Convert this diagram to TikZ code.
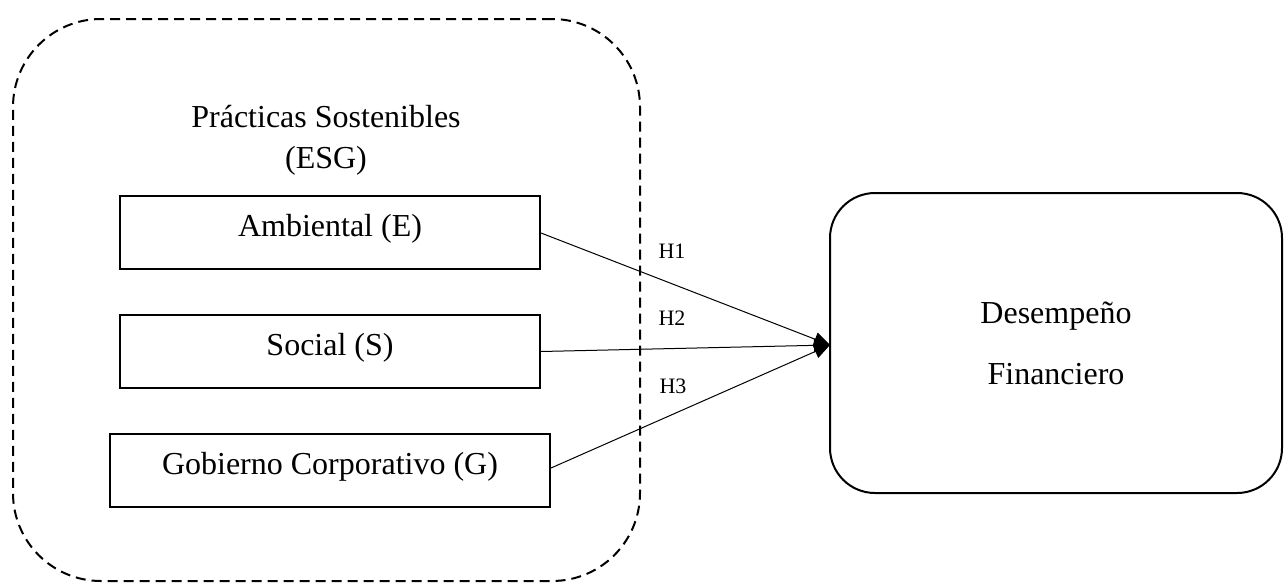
\documentclass[tikz,border=0pt]{standalone}
\usepackage{fontspec}
\setmainfont{Liberation Serif}
\usetikzlibrary{arrows.meta}
\begin{document}
\begin{tikzpicture}[x=0.5pt,y=-0.5pt,
  main/.style={font=\fontsize{16}{19}\selectfont},
  dimbox/.style={draw,line width=1pt,minimum height=36.5pt,inner sep=0pt,
    text height=9.5pt,text depth=5.5pt,main},
  group/.style={draw,line width=1pt,dash pattern=on 5pt off 3pt,rounded corners=44pt,
    minimum width=313.5pt,minimum height=281pt,inner sep=0pt},
  outcome/.style={draw,line width=1pt,rounded corners=22.5pt,minimum width=226pt,
    minimum height=150pt,inner sep=0pt,align=center,font=\fontsize{16}{30.5}\selectfont},
  hyp/.style={font=\fontsize{11}{13}\selectfont,anchor=base},
  link/.style={line width=0.5pt,-{Triangle[length=8pt,width=7pt]}}
]
\useasboundingbox (0,0) rectangle (1284,584);
\node[group] (esg) at (326.5,300) {};
\node[main,align=center,font=\fontsize{16}{20.5}\selectfont] (title) at (326,140) {Prácticas Sostenibles\\(ESG)};
\node[dimbox,minimum width=210pt] (amb) at (330,232.5) {Ambiental (E)};
\node[dimbox,minimum width=210pt] (soc) at (330,351.5) {Social (S)};
\node[dimbox,minimum width=220pt] (gob) at (330,470) {Gobierno Corporativo (G)};
\node[outcome] (des) at (1056,343) {Desempeño\\Financiero};
\coordinate (tip) at (830,345);
\draw[link] (amb.east |- 0,233) -- (tip);
\draw[link] (soc.east) -- (tip);
\draw[link] (gob.east |- 0,468) -- (tip);
\node[hyp] (h1) at (672,258) {H1};
\node[hyp] (h2) at (672,325) {H2};
\node[hyp] (h3) at (673,393) {H3};
\end{tikzpicture}
\end{document}
